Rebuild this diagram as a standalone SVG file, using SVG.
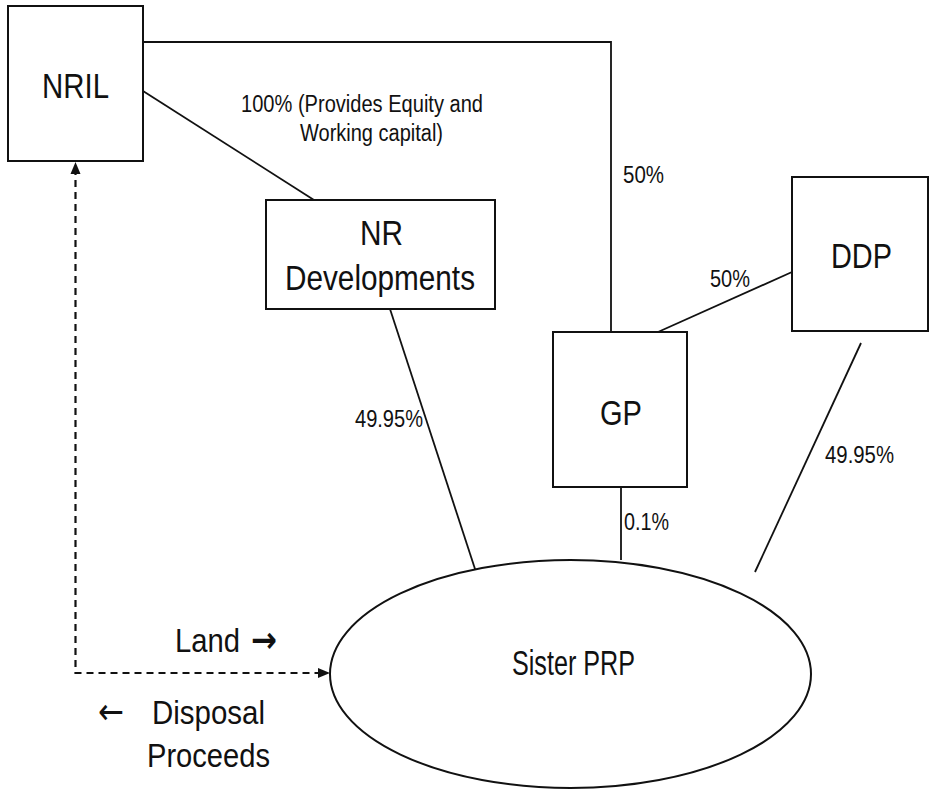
<svg xmlns="http://www.w3.org/2000/svg" width="936" height="790" viewBox="0 0 936 790">
<style>
.box{fill:#fff;stroke:#111;stroke-width:2}
.ln{fill:none;stroke:#111;stroke-width:1.8}
.dash{fill:none;stroke:#111;stroke-width:2.2;stroke-dasharray:7 5}
.big{font-family:"Liberation Sans",Arial,sans-serif;font-size:35px;fill:#111}
.lbl{font-family:"Liberation Sans",Arial,sans-serif;font-size:23px;fill:#111}
.mid{font-family:"Liberation Sans",Arial,sans-serif;font-size:34px;fill:#111}
.arr{font-family:"DejaVu Sans",sans-serif;font-size:36px;font-weight:bold}
.arrl{font-family:"DejaVu Sans",sans-serif;font-size:36px}
</style>
<rect width="936" height="790" fill="#fff"/>
<g id="connectors">
<polyline class="ln" points="143,42 611,42 611,332"/>
<line class="ln" x1="143" y1="91" x2="314" y2="200"/>
<line class="ln" x1="658" y1="332" x2="792" y2="272"/>
<line class="ln" x1="390" y1="309" x2="476" y2="572"/>
<line class="ln" x1="621" y1="487" x2="621" y2="560"/>
<line class="ln" x1="861" y1="343" x2="755" y2="572"/>
<polyline class="dash" points="75.5,168 75.5,673 320,673"/>
<path d="M75.5,162 L70.5,174 L80.5,174 Z" fill="#111"/>
<path d="M330,673 L318,668 L318,678 Z" fill="#111"/>
<text class="lbl" x="241" y="112" textLength="242" lengthAdjust="spacingAndGlyphs">100% (Provides Equity and</text>
<text class="lbl" x="300" y="141" textLength="143" lengthAdjust="spacingAndGlyphs">Working capital)</text>
<text class="lbl" x="623" y="183" textLength="41" lengthAdjust="spacingAndGlyphs">50%</text>
<text class="lbl" x="710" y="287" textLength="40" lengthAdjust="spacingAndGlyphs">50%</text>
<text class="lbl" x="355" y="427" textLength="68" lengthAdjust="spacingAndGlyphs">49.95%</text>
<text class="lbl" x="825" y="463" textLength="69" lengthAdjust="spacingAndGlyphs">49.95%</text>
<text class="lbl" x="624" y="530" textLength="45" lengthAdjust="spacingAndGlyphs">0.1%</text>
<text class="mid" y="652"><tspan x="175" textLength="65" lengthAdjust="spacingAndGlyphs">Land</tspan> <tspan class="arr" x="251" textLength="26" lengthAdjust="spacingAndGlyphs">→</tspan></text>
<text class="mid" y="724"><tspan class="arrl" x="98" textLength="26" lengthAdjust="spacingAndGlyphs">←</tspan> <tspan x="152" textLength="113" lengthAdjust="spacingAndGlyphs">Disposal</tspan></text>
<text class="mid" x="147" y="767" textLength="123" lengthAdjust="spacingAndGlyphs">Proceeds</text>
</g>
<g id="nril">
<rect class="box" x="8" y="6" width="135" height="155"/>
<text class="big" x="42" y="98" textLength="67" lengthAdjust="spacingAndGlyphs">NRIL</text>
</g>
<g id="nrdev">
<rect class="box" x="266" y="200" width="229" height="109"/>
<text class="big" x="360" y="245" textLength="43" lengthAdjust="spacingAndGlyphs">NR</text>
<text class="big" x="285" y="290" textLength="190" lengthAdjust="spacingAndGlyphs">Developments</text>
</g>
<g id="gp">
<rect class="box" x="553" y="332" width="134" height="155"/>
<text class="big" x="600" y="425" textLength="42" lengthAdjust="spacingAndGlyphs">GP</text>
</g>
<g id="ddp">
<rect class="box" x="792" y="177" width="136" height="154"/>
<text class="big" x="831" y="268" textLength="61" lengthAdjust="spacingAndGlyphs">DDP</text>
</g>
<g id="sister">
<ellipse class="box" cx="570.5" cy="674" rx="240.5" ry="114"/>
<text class="big" x="512" y="675" textLength="123" lengthAdjust="spacingAndGlyphs">Sister PRP</text>
</g>
</svg>
